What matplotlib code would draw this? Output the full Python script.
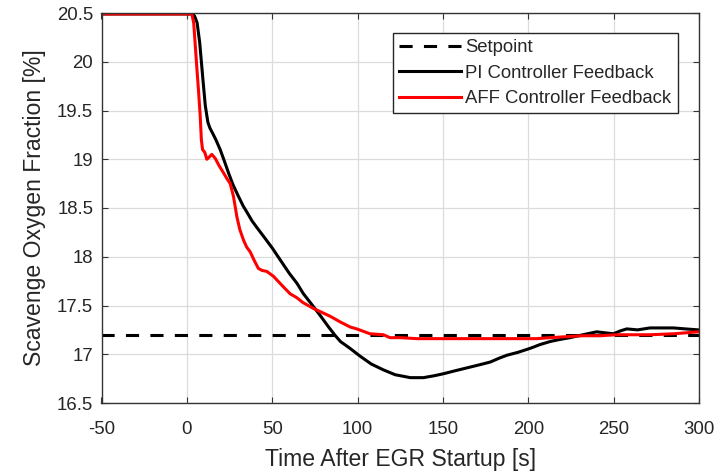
import matplotlib
matplotlib.use("Agg")
import matplotlib.pyplot as plt

# ---- data ----
setpoint_t = [-50, 300]
setpoint_v = [17.2, 17.2]

pi_t = [-50, 0, 3, 4.5, 6, 7.5, 8.5, 9.5, 10.8, 12.3, 13.5, 15, 17, 19.5, 22, 24.4, 27,
        30.2, 33, 35.1, 38.1, 41, 44.9, 50, 54.6, 60, 64.4, 68.3, 73.2, 78, 83, 87, 90,
        95.6, 101.5, 108, 115.1, 122, 130.9, 138.6, 145, 150.3, 157, 164, 171, 177.7,
        183, 187.5, 194, 201, 207, 212.7, 218, 224.4, 232, 240, 245, 249.8, 254, 257.7,
        264, 271.3, 278, 285, 292, 299.6]
pi_v = [20.49, 20.49, 20.49, 20.47, 20.40, 20.2, 20.0, 19.8, 19.55, 19.38, 19.32, 19.27,
        19.2, 19.1, 18.98, 18.86, 18.74, 18.62, 18.52, 18.46, 18.37, 18.3, 18.21, 18.09,
        17.97, 17.83, 17.73, 17.62, 17.51, 17.40, 17.28, 17.19, 17.13, 17.06, 16.98, 16.9,
        16.84, 16.79, 16.76, 16.76, 16.78, 16.80, 16.83, 16.86, 16.89, 16.92, 16.96, 16.99,
        17.02, 17.06, 17.1, 17.13, 17.15, 17.17, 17.2, 17.23, 17.22, 17.21, 17.24, 17.26,
        17.25, 17.27, 17.27, 17.27, 17.26, 17.25]

aff_t = [-50, 0, 2.9, 4, 5, 6, 6.8, 7.8, 8.5, 9.2, 10.5, 11.7, 13, 14.6, 16.6, 19, 21.5,
         23.5, 25.4, 27.3, 29.3, 31, 33.2, 35, 37.1, 39.5, 41.9, 44, 46.8, 50.7, 56.6, 60.5,
         64.4, 68, 74.1, 79, 83.9, 90, 95.6, 99.5, 107.3, 115.1, 119, 125, 134.7, 145,
         154.2, 165, 173.7, 185, 197.1, 205, 212.7, 222, 232.2, 242, 251.8, 262, 271.3,
         285, 299.6]
aff_v = [20.49, 20.49, 20.49, 20.4, 20.15, 19.9, 19.71, 19.45, 19.2, 19.10, 19.07, 19.0,
         19.02, 19.05, 19.01, 18.93, 18.86, 18.8, 18.75, 18.62, 18.41, 18.28, 18.17, 18.1,
         18.05, 17.96, 17.88, 17.86, 17.85, 17.80, 17.69, 17.62, 17.58, 17.53, 17.47, 17.43,
         17.39, 17.33, 17.28, 17.26, 17.21, 17.20, 17.17, 17.17, 17.16, 17.16, 17.16, 17.16,
         17.16, 17.16, 17.16, 17.16, 17.17, 17.18, 17.19, 17.19, 17.20, 17.20, 17.2, 17.21,
         17.23]

x_ticks = [-50, 0, 50, 100, 150, 200, 250, 300]
y_ticks = [16.5, 17, 17.5, 18, 18.5, 19, 19.5, 20, 20.5]
y_tick_labels = ["16.5", "17", "17.5", "18", "18.5", "19", "19.5", "20", "20.5"]

# ---- figure ----
plt.rcParams['font.family'] = ['Liberation Sans', 'DejaVu Sans']
plt.rcParams['axes.unicode_minus'] = False
W, H = 726, 472
fig = plt.figure(figsize=(W / 100, H / 100), dpi=100)
l, r, t, b = 101.5, 699, 13, 403
ax = fig.add_axes([l / W, 1 - b / H, (r - l) / W, (b - t) / H])

txt = '#262626'
ax.plot(setpoint_t, setpoint_v, color='black', lw=2.2, dashes=(4.3, 3.7), label='Setpoint')
ax.plot(pi_t, pi_v, color='black', lw=2.2, label='PI Controller Feedback')
ax.plot(aff_t, aff_v, color='#ff0000', lw=2.2, label='AFF Controller Feedback')

ax.set_xlim(-50, 300)
ax.set_ylim(16.5, 20.5)
ax.set_xticks(x_ticks)
ax.set_yticks(y_ticks)
ax.set_yticklabels(y_tick_labels)
ax.grid(True, color='#dcdcdc', lw=0.9)
ax.set_axisbelow(True)
for s in ax.spines.values():
    s.set_color('#333333')
    s.set_linewidth(1.0)
ax.tick_params(direction='in', length=4, width=0.8, color='#333333', labelcolor=txt,
               labelsize=13.4, top=True, right=True)
ax.tick_params(axis='x', pad=13)
ax.tick_params(axis='y', pad=6)
ax.set_xlabel('Time After EGR Startup [s]', fontsize=16.6, color=txt, labelpad=7.5)
ax.set_ylabel('Scavenge Oxygen Fraction [%]', fontsize=16.6, color=txt, labelpad=8)

leg = ax.legend(loc='upper right', bbox_to_anchor=(0.965, 0.949), borderaxespad=0,
                fontsize=13.3, handlelength=3.35, handletextpad=0.25, labelspacing=0.45,
                borderpad=0.35, fancybox=False, framealpha=1, edgecolor='#262626')
leg.get_frame().set_linewidth(1.0)
for tx in leg.get_texts():
    tx.set_color(txt)

fig.savefig('out.png', dpi=100)
